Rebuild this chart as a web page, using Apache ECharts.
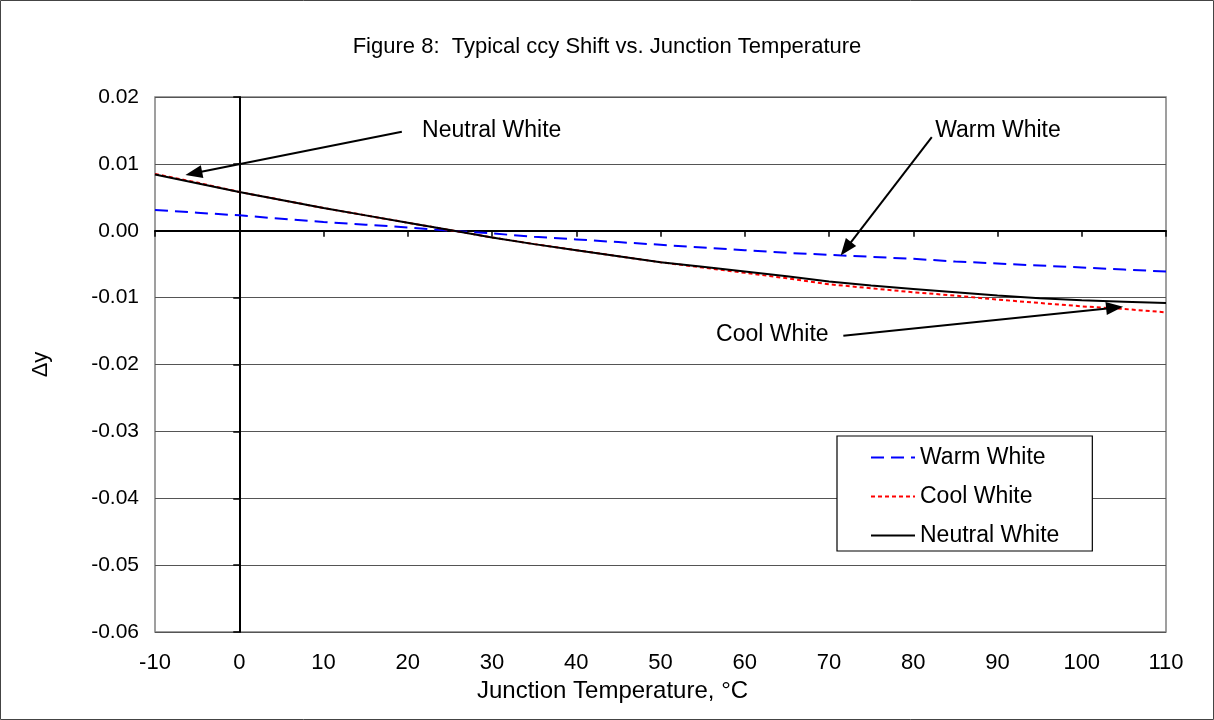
<!DOCTYPE html>
<html>
<head>
<meta charset="utf-8">
<script src="https://cdn.jsdelivr.net/npm/echarts@6/dist/echarts.min.js"></script>
<style>
html,body{margin:0;padding:0;background:#fff;}
#chart{width:1214px;height:720px;}
</style>
</head>
<body>
<div id="chart"></div>
<script>
// ---- data ----
var temps = [-10,-5,0,5,10,15,20,25,30,35,40,45,50,55,60,65,70,75,80,85,90,95,100,105,110];
var warmWhite = [0.0031,0.0027,0.0023,0.0018,0.0013,0.0009,0.0005,0.0000,-0.0004,-0.0009,-0.0013,-0.0017,-0.0021,-0.0025,-0.0029,-0.0033,-0.0036,-0.0039,-0.0042,-0.0046,-0.0049,-0.0052,-0.0055,-0.0058,-0.0061];
var coolWhite = [0.0085,0.0072,0.0058,0.0046,0.0034,0.0023,0.0012,0.0001,-0.0010,-0.0020,-0.0029,-0.0038,-0.0047,-0.0055,-0.0063,-0.0071,-0.0080,-0.0086,-0.0092,-0.0097,-0.0103,-0.0108,-0.0113,-0.0117,-0.0122];
var neutralWhite = [0.0084,0.0071,0.0058,0.0046,0.0034,0.0023,0.0012,0.0001,-0.0010,-0.0020,-0.0029,-0.0038,-0.0047,-0.0054,-0.0061,-0.0068,-0.0076,-0.0082,-0.0087,-0.0092,-0.0097,-0.0101,-0.0104,-0.0106,-0.0108];
var seriesNames = ['Warm White','Cool White','Neutral White'];
var xTicks = {min:-10, max:110, interval:10};
var yTicks = {min:-0.06, max:0.02, interval:0.01};
// annotation arrows: [from, to] in data coordinates
var arrowNeutral = [[19.3,0.0148],[-5.4,0.0086]];
var arrowWarm = [[82.2,0.0140],[72.0,-0.0027]];
var arrowCool = [[71.7,-0.0157],[103.9,-0.0115]];
// annotation labels: anchor at left-middle of text
var labelNeutral = [21.7,0.0149];
var labelWarm = [82.6,0.0149];
var labelCool = [56.6,-0.0155];

function pairs(xs, ys){ return xs.map(function(x,i){ return [x, ys[i]]; }); }

var FONT = 'Liberation Sans, Arial, sans-serif';
var chart = echarts.init(document.getElementById('chart'), null, {renderer:'canvas'});

var arrowStyle = {color:'#000', width:2, type:'solid'};
function arrowLine(a){ return [{coord:a[0], symbol:'none'},{coord:a[1], symbol:'triangle'}]; }
function textPoint(name, c){
  return {name:name, coord:c, symbol:'circle', symbolSize:0,
    label:{show:true, position:'right', distance:0, formatter:name, color:'#000', fontSize:23, fontFamily:FONT}};
}

var option = {
  animation:false,
  backgroundColor:'#fff',
  textStyle:{fontFamily:FONT},
  title:{
    text:'Figure 8:  Typical ccy Shift vs. Junction Temperature',
    left:'center', top:31,
    textStyle:{fontSize:22, fontWeight:'normal', color:'#000', fontFamily:FONT}
  },
  graphic:[
    {type:'rect', shape:{x:0.5,y:0.5,width:1213,height:719}, style:{fill:'none', stroke:'#444', lineWidth:1}, silent:true},
    {type:'text', left:477, top:679, style:{text:'Junction Temperature, \u00B0C', fontSize:24, fontFamily:FONT, fill:'#000'}}
  ],
  grid:{left:155, top:97, width:1011, height:535, show:true, borderColor:'#808080', borderWidth:1.5, backgroundColor:'#fff'},
  legend:{
    orient:'vertical', left:837, top:436,
    data:seriesNames,
    itemWidth:44, itemHeight:14, itemGap:16,
    backgroundColor:'#fff', borderColor:'#000', borderWidth:1.2,
    padding:[10,33,4,33],
    itemStyle:{opacity:0},
    textStyle:{fontSize:23, color:'#000', fontFamily:FONT, padding:[0,0,0,0]}
  },
  xAxis:[
    {type:'value', min:xTicks.min, max:xTicks.max, interval:xTicks.interval, position:'bottom',
     axisLine:{show:false, onZero:false}, axisTick:{show:false}, splitLine:{show:false},
     axisLabel:{color:'#000', fontSize:22, margin:20, fontFamily:FONT}},
    {type:'value', min:xTicks.min, max:xTicks.max, interval:xTicks.interval, position:'bottom',
     axisLine:{show:true, onZero:true, lineStyle:{color:'#000', width:2}},
     axisTick:{show:true, length:6, lineStyle:{color:'#000', width:1.5}},
     axisLabel:{show:false}, splitLine:{show:false}}
  ],
  yAxis:[
    {type:'value', min:yTicks.min, max:yTicks.max, interval:yTicks.interval, position:'left',
     axisLine:{show:false, onZero:false}, axisTick:{show:false},
     splitLine:{show:true, lineStyle:{color:'#555', width:1.2}},
     axisLabel:{color:'#000', fontSize:21, margin:16, fontFamily:FONT,
       formatter:function(v){ if(Math.abs(v)<1e-9) v=0; return v.toFixed(2); }},
     name:'\u0394y', nameLocation:'middle', nameGap:103, nameRotate:90,
     nameTextStyle:{fontSize:22, color:'#000', fontFamily:FONT}},
    {type:'value', min:yTicks.min, max:yTicks.max, interval:yTicks.interval, position:'left',
     axisLine:{show:true, onZero:true, lineStyle:{color:'#000', width:2}},
     axisTick:{show:true, length:6, lineStyle:{color:'#000', width:1.5}},
     axisLabel:{show:false}, splitLine:{show:false}}
  ],
  series:[
    {name:seriesNames[0], type:'line', xAxisIndex:0, yAxisIndex:0, data:pairs(temps, warmWhite),
     showSymbol:false, symbol:'none', color:'#0000ff',
     lineStyle:{color:'#0000ff', width:2, type:[13,7]}, z:3},
    {name:seriesNames[1], type:'line', xAxisIndex:0, yAxisIndex:0, data:pairs(temps, coolWhite),
     showSymbol:false, symbol:'none', color:'#ff0000',
     lineStyle:{color:'#ff0000', width:2, type:[4,3]}, z:3},
    {name:seriesNames[2], type:'line', xAxisIndex:0, yAxisIndex:0, data:pairs(temps, neutralWhite),
     showSymbol:false, symbol:'none', color:'#000000',
     lineStyle:{color:'#000000', width:2, type:'solid'}, z:4,
     markLine:{silent:true, symbolSize:[13,17], lineStyle:arrowStyle, label:{show:false},
       data:[arrowLine(arrowNeutral), arrowLine(arrowWarm), arrowLine(arrowCool)]},
     markPoint:{silent:true, data:[textPoint('Neutral White', labelNeutral), textPoint('Warm White', labelWarm), textPoint('Cool White', labelCool)]}
    }
  ]
};
chart.setOption(option);
</script>
</body>
</html>
